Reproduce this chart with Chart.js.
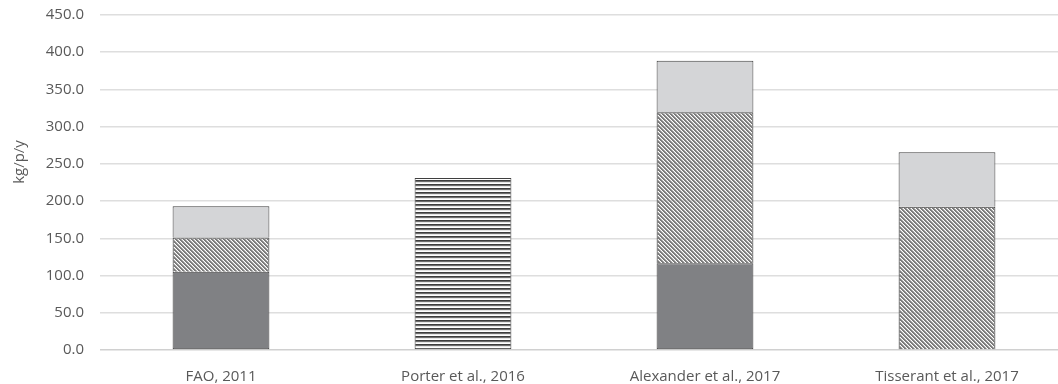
<!DOCTYPE html>
<html>
<head>
<meta charset="utf-8">
<script src="https://cdn.jsdelivr.net/npm/chart.js@4"></script>
<style>
  html, body { margin: 0; padding: 0; background: #fff; overflow: hidden; }
  #wrap { position: relative; width: 1068px; height: 384px; }
</style>
</head>
<body>
<div id="wrap"><canvas id="wasteChart"></canvas></div>
<script>
// categories and stacked segment values (kg/p/y)
var studies = ['FAO, 2011', 'Porter et al., 2016', 'Alexander et al., 2017', 'Tisserant et al., 2017'];
var solidPart = [105, null, 116.5, null];
var hatchPart = [46, null, 203, 192.5];
var lightPart = [42, null, 69, 73];
var stripePart = [null, 231, null, null];
var yTicks = [0, 50, 100, 150, 200, 250, 300, 350, 400, 450];
var yTitle = 'kg/p/y';

var FONT = '"Open Sans", "Liberation Sans", sans-serif';

// diagonal "\" hatch, gray on transparent so gridlines show through
function diagPattern() {
	var c = document.createElement('canvas');
	c.width = 4; c.height = 4;
	var g = c.getContext('2d');
	for (var y = 0; y < 4; y++) {
		for (var x = 0; x < 4; x++) {
			var k = ((x - y) % 4 + 4) % 4;
			if (k === 0 || k === 1) { g.fillStyle = '#7c7c7c'; g.fillRect(x, y, 1, 1); }
			if (k === 2) { g.fillStyle = '#b8b8b8'; g.fillRect(x, y, 1, 1); }
		}
	}
	return g.createPattern(c, 'repeat');
}

// horizontal stripes
function stripePattern() {
	var c = document.createElement('canvas');
	c.width = 4; c.height = 4;
	var g = c.getContext('2d');
	g.fillStyle = '#ffffff'; g.fillRect(0, 0, 4, 4);
	g.fillStyle = '#3e3e3e'; g.fillRect(0, 0, 4, 1);
	g.fillStyle = '#6e6e6e'; g.fillRect(0, 1, 4, 1);
	g.fillStyle = '#e6e6e6'; g.fillRect(0, 2, 4, 1);
	return g.createPattern(c, 'repeat');
}

var yTitlePlugin = {
	id: 'yTitle',
	afterDraw: function(chart) {
		var ctx = chart.ctx;
		ctx.save();
		ctx.translate(20, chart.chartArea.top + 147);
		ctx.rotate(-Math.PI / 2);
		ctx.fillStyle = '#595959';
		ctx.font = '15px ' + FONT;
		ctx.textAlign = 'center';
		ctx.textBaseline = 'middle';
		ctx.fillText(yTitle, 0, 0);
		ctx.restore();
	}
};

function seg(data, fill, bottomEdge) {
	return {
		data: data,
		backgroundColor: fill,
		borderColor: '#3f3f3f',
		borderWidth: { top: 1, left: 1, right: 1, bottom: bottomEdge },
		borderSkipped: false,
		categoryPercentage: 1,
		barPercentage: 0.4,
		stack: 's'
	};
}

new Chart(document.getElementById('wasteChart'), {
	type: 'bar',
	data: {
		labels: studies,
		datasets: [
			seg(solidPart, '#808184', 1),
			seg(hatchPart, diagPattern(), 0),
			seg(lightPart, '#d4d5d7', 0),
			seg(stripePart, stripePattern(), 1)
		]
	},
	options: {
		responsive: true,
		maintainAspectRatio: false,
		animation: false,
		layout: { padding: { top: 15, left: 0, right: 0, bottom: 0 } },
		plugins: { legend: { display: false }, tooltip: { enabled: false } },
		scales: {
			x: {
				stacked: true,
				grid: { display: false },
				border: { display: false },
				ticks: { color: '#595959', font: { family: FONT, size: 15 }, padding: 10 },
				afterFit: function(s) { s.height = 34; s.paddingLeft = 0; s.paddingRight = 0; }
			},
			y: {
				stacked: true,
				min: 0,
				max: 450,
				afterBuildTicks: function(s) { s.ticks = yTicks.map(function(v) { return { value: v }; }); },
				grid: { color: function(c) { return c.tick && c.tick.value === 0 ? '#d0d0d0' : '#dedede'; }, lineWidth: 1.5, drawTicks: false },
				border: { display: false },
				ticks: {
					color: '#595959',
					font: { family: FONT, size: 15 },
					padding: 16,
					callback: function(v) { return Number(v).toFixed(1); }
				},
				afterFit: function(s) { s.width = 100; s.paddingTop = 0; s.paddingBottom = 0; }
			}
		}
	},
	plugins: [yTitlePlugin]
});
</script>
</body>
</html>
